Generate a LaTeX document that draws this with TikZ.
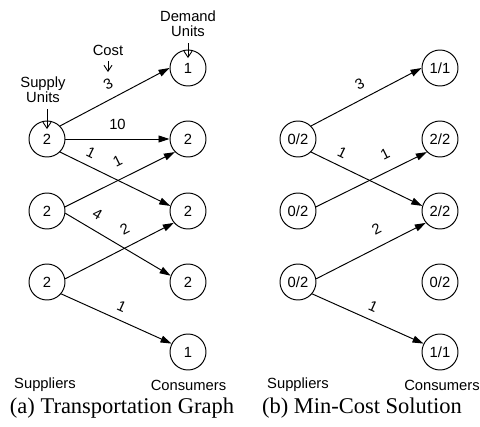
\documentclass[tikz,border=0pt]{standalone}
\usepackage{fontspec}
\setmainfont{Liberation Serif}
\setsansfont{Liberation Sans}
\usetikzlibrary{arrows.meta}
\begin{document}
\begin{tikzpicture}[
    unit/.style={draw, circle, minimum size=0.72cm, inner sep=0pt, line width=0.55pt},
    flow/.style={line width=0.55pt, -{Triangle[length=2.2mm, width=1.4mm]}},
    note/.style={line width=0.5pt, -{Straight Barb[length=1.2mm, width=1.6mm]}},
    cost/.style={sloped, inner sep=1pt},
    every node/.style={font=\sffamily\fontsize{8.4}{9.6}\selectfont}]
  \useasboundingbox (0, 0) rectangle (9.6, -8.54);
  %%(a) suppliers
    \node[unit] (as1) at(0.94, -2.78){2};
    \node[unit] (as2) at(0.94, -4.22){2};
    \node[unit] (as3) at(0.94, -5.64){2};
  %%(a) consumers
    \node[unit] (ac1) at(3.76, -1.36){1};
    \node[unit] (ac2) at(3.76, -2.78){2};
    \node[unit] (ac3) at(3.76, -4.22){2};
    \node[unit] (ac4) at(3.76, -5.64){2};
    \node[unit] (ac5) at(3.76, -7.04){1};
  %%(a) edges
    \draw[flow] (as1.45) to node[cost, pos=0.5, above=3.9pt]{3} (ac1.west);
    \draw[flow] (as1.east) to node[cost, pos=0.5, above=3.9pt]{10} (ac2.west);
    \draw[flow] (as1.-45) to node[cost, pos=0.23, above=3.1pt]{1} (ac3.164);
    \draw[flow] (as2.13) to node[cost, pos=0.55, above=6pt]{1} (ac2.-135);
    \draw[flow] (as2.-7) to node[cost, pos=0.23, above=4.8pt]{4} (ac4.160);
    \draw[flow] (as3.10) to node[cost, pos=0.62, above=5.5pt]{2} (ac3.-140);
    \draw[flow] (as3.-40) to node[cost, pos=0.5, above=3.3pt]{1} (ac5.153);
  %%(a) notes
    \node[align=center] (supply) at(0.86, -1.8){Supply\\[-1pt]Units};
      \coordinate (supplyend) at(0.94, -2.58);
      \draw[note] (supply.south -| supplyend) to (supplyend);
    \node (costlbl) at(2.16, -1.0){Cost};
      \coordinate (costend) at(2.16, -1.44);
      \draw[note] (costlbl.south) to (costend);
    \node[align=center] (demand) at(3.76, -0.48){Demand\\[-1pt]Units};
      \coordinate (demandend) at(3.76, -1.16);
      \draw[note] (demand.south) to (demandend);

  %%(b) suppliers
    \node[unit] (bs1) at(5.96, -2.78){0/2};
    \node[unit] (bs2) at(5.96, -4.22){0/2};
    \node[unit] (bs3) at(5.96, -5.64){0/2};
  %%(b) consumers
    \node[unit] (bc1) at(8.8, -1.36){1/1};
    \node[unit] (bc2) at(8.8, -2.78){2/2};
    \node[unit] (bc3) at(8.8, -4.22){2/2};
    \node[unit] (bc4) at(8.8, -5.64){0/2};
    \node[unit] (bc5) at(8.8, -7.04){1/1};
  %%(b) edges
    \draw[flow] (bs1.45) to node[cost, pos=0.5, above=3.9pt]{3} (bc1.west);
    \draw[flow] (bs1.-45) to node[cost, pos=0.23, above=3.1pt]{1} (bc3.164);
    \draw[flow] (bs2.13) to node[cost, pos=0.69, above=5.4pt]{1} (bc2.-135);
    \draw[flow] (bs3.10) to node[cost, pos=0.62, above=5.5pt]{2} (bc3.-140);
    \draw[flow] (bs3.-40) to node[cost, pos=0.5, above=3.3pt]{1} (bc5.153);

  %%Footer
    \node (asup) at(0.9, -7.7){Suppliers};
    \node (acon) at(3.77, -7.7){Consumers};
    \node (bsup) at(5.96, -7.7){Suppliers};
    \node (bcon) at(8.84, -7.7){Consumers};
    \node[font=\rmfamily\fontsize{12.8}{14}\selectfont] (acap) at(2.44, -8.17){(a) Transportation Graph};
    \node[font=\rmfamily\fontsize{12.8}{14}\selectfont] (bcap) at(7.24, -8.17){(b) Min-Cost Solution};
\end{tikzpicture}
\end{document}
